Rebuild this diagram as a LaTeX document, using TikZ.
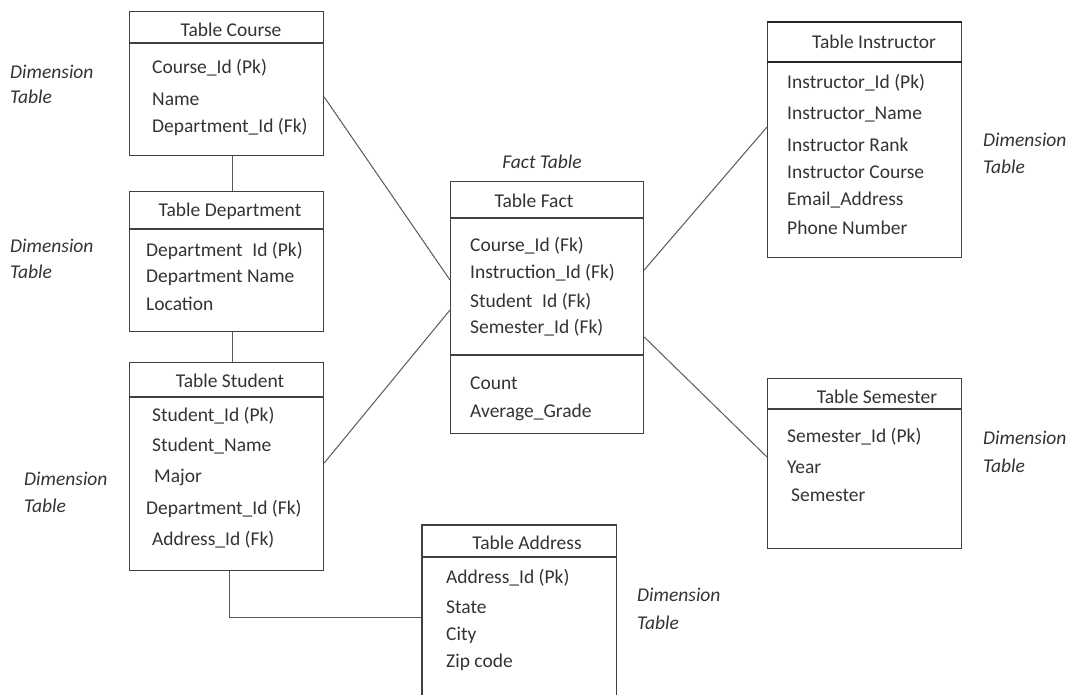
\documentclass[tikz,border=0pt]{standalone}
\usepackage{fontspec}
\setmainfont{Carlito}
\usetikzlibrary{positioning}

\begin{document}
\begin{tikzpicture}[x=1pt,y=-1pt,
  tbl/.style={draw=black!75, line width=1.2pt, minimum width=194pt, anchor=north west, inner sep=0pt},
  hdr/.style={inner sep=0pt, font=\fontsize{19.5}{22}\selectfont, text=black!80},
  item/.style={anchor=west, inner sep=0pt, font=\fontsize{19.5}{22}\selectfont, text=black!80},
  dim/.style={anchor=west, inner sep=0pt, font=\itshape\fontsize{19.5}{22}\selectfont, text=black!80},
  link/.style={draw=black!65, line width=1pt}]
  \useasboundingbox (0,0) rectangle (1071,694);

  % dimension table Course
  \node[tbl, minimum height=144pt] (course) at (129,11) {};
  \draw[black!75, line width=1.2pt] (course.west |- 0,43) -- (course.east |- 0,43);
  \node[hdr] (courseh) at (231,30) {Table Course};
  \node[item] (c1) at (152,68) {Course\_Id (Pk)};
  \node[item] (c2) at (152,99) {Name};
  \node[item] (c3) at (152,127) {Department\_Id (Fk)};
  \node[dim] (cd1) at (10,72) {Dimension};
  \node[dim] (cd2) at (10,97) {Table};

  % dimension table Department
  \node[tbl, minimum height=140pt] (dept) at (129,191) {};
  \draw[black!75, line width=1.2pt] (dept.west |- 0,229) -- (dept.east |- 0,229);
  \node[hdr] (depth) at (230,211) {Table Department};
  \node[item] (d1) at (146,251) {Department\enspace Id (Pk)};
  \node[item] (d2) at (146,278) {Department Name};
  \node[item] (d3) at (146,304) {Location};
  \node[dim] (dd1) at (10,246) {Dimension};
  \node[dim] (dd2) at (10,272) {Table};

  % dimension table Student
  \node[tbl, minimum height=208pt] (student) at (129,362) {};
  \draw[black!75, line width=1.2pt] (student.west |- 0,397) -- (student.east |- 0,397);
  \node[hdr] (studenth) at (230,381) {Table Student};
  \node[item] (s1) at (152,416) {Student\_Id (Pk)};
  \node[item] (s2) at (152,446) {Student\_Name};
  \node[item] (s3) at (154,477) {Major};
  \node[item] (s4) at (146,509) {Department\_Id (Fk)};
  \node[item] (s5) at (152,540) {Address\_Id (Fk)};
  \node[dim] (sd1) at (24,479) {Dimension};
  \node[dim] (sd2) at (24,506) {Table};

  % dimension table Address (runs off the bottom)
  \node[tbl, draw=none, minimum width=193pt, minimum height=172pt] (address) at (422,525) {};
  \draw[black!75, line width=1.2pt] (address.south west) |- (address.north east) -- (address.south east);
  \draw[black!75, line width=1.2pt] (address.west |- 0,557) -- (address.east |- 0,557);
  \node[hdr] (addressh) at (527,543) {Table Address};
  \node[item] (a1) at (446,578) {Address\_Id (Pk)};
  \node[item] (a2) at (446,607) {State};
  \node[item] (a3) at (446,635) {City};
  \node[item] (a4) at (446,662) {Zip code};
  \node[dim] (ad1) at (637,595) {Dimension};
  \node[dim] (ad2) at (637,623) {Table};

  % fact table
  \node[dim, anchor=center] (factt) at (542,162) {Fact Table};
  \node[tbl, minimum width=193pt, minimum height=252pt] (fact) at (450,181) {};
  \draw[black!75, line width=1.2pt] (fact.west |- 0,218) -- (fact.east |- 0,218);
  \draw[black!75, line width=1.2pt] (fact.west |- 0,355) -- (fact.east |- 0,355);
  \node[hdr] (facth) at (534,201) {Table Fact};
  \node[item] (f1) at (470,246) {Course\_Id (Fk)};
  \node[item] (f2) at (470,273) {Instruction\_Id (Fk)};
  \node[item] (f3) at (470,302) {Student\enspace Id (Fk)};
  \node[item] (f4) at (470,328) {Semester\_Id (Fk)};
  \node[item] (f5) at (470,383) {Count};
  \node[item] (f6) at (470,412) {Average\_Grade};

  % dimension table Instructor
  \node[tbl, minimum height=235pt] (instr) at (767,22) {};
  \draw[black!85, line width=2pt] (instr.north west) -- (instr.north east);
  \draw[black!85, line width=2pt] (instr.west |- 0,62) -- (instr.east |- 0,62);
  \node[hdr] (instrh) at (874,42) {Table Instructor};
  \node[item] (i1) at (787,83) {Instructor\_Id (Pk)};
  \node[item] (i2) at (787,115) {Instructor\_Name};
  \node[item] (i3) at (787,145) {Instructor Rank};
  \node[item] (i4) at (787,172) {Instructor Course};
  \node[item] (i5) at (787,200) {Email\_Address};
  \node[item] (i6) at (787,228) {Phone Number};
  \node[dim] (id1) at (983,140) {Dimension};
  \node[dim] (id2) at (983,167) {Table};

  % dimension table Semester
  \node[tbl, minimum height=170pt] (sem) at (767,378) {};
  \draw[black!75, line width=1.2pt] (sem.west |- 0,409) -- (sem.east |- 0,409);
  \node[hdr] (semh) at (877,397) {Table Semester};
  \node[item] (m1) at (787,437) {Semester\_Id (Pk)};
  \node[item] (m2) at (787,467) {Year};
  \node[item] (m3) at (791,495) {Semester};
  \node[dim] (md1) at (983,438) {Dimension};
  \node[dim] (md2) at (983,466) {Table};

  % connectors
  \draw[link] (course.south -| 232,0) -- (dept.north -| 232,0);
  \draw[link] (dept.south -| 232,0) -- (student.north -| 232,0);
  \draw[link] (student.south -| 229,0) |- (address.west |- 0,617);
  \draw[link] (course.east |- 0,97) -- (fact.west |- 0,280);
  \draw[link] (student.east |- 0,463) -- (fact.west |- 0,310);
  \draw[link] (fact.east |- 0,270) -- (instr.west |- 0,127);
  \draw[link] (fact.east |- 0,337) -- (sem.west |- 0,457);
\end{tikzpicture}
\end{document}
